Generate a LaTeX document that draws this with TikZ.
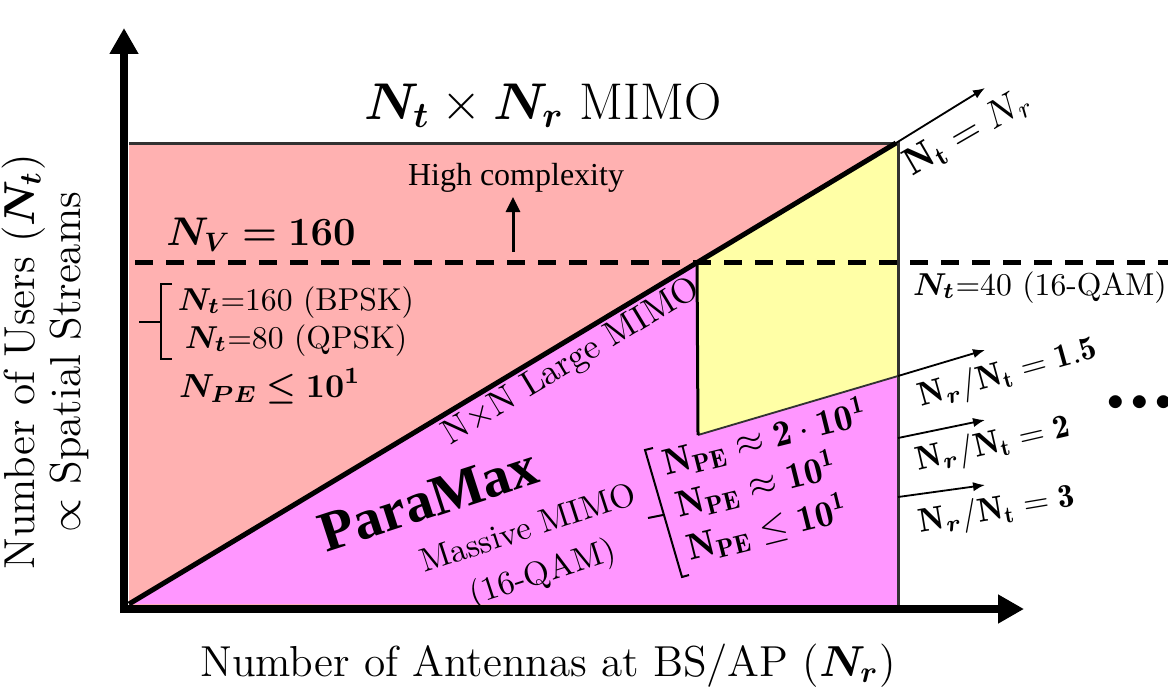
\documentclass[tikz,border=0pt]{standalone}
\usepackage{fix-cm}
\usepackage{amsmath,amssymb,bm}
\usepackage{fontspec}
\newfontfamily\timesf{Liberation Serif}
\usetikzlibrary{arrows.meta,calc}
\definecolor{pinkR}{RGB}{255,177,177}
\definecolor{magR}{RGB}{255,150,255}
\definecolor{yelR}{RGB}{255,255,166}
\definecolor{edgeG}{RGB}{50,50,50}
\newcommand\fsz[2]{\fontsize{#1}{#2}\selectfont}
\begin{document}
\begin{tikzpicture}[x=0.3pt,y=-0.3pt,
  axisarrow/.style={line width=2.6pt,-{Triangle[length=7.8pt,width=8.2pt]}},
  thinarrow/.style={line width=0.55pt,-{Latex[length=3.6pt,width=2.8pt]}},
  uparrow/.style={line width=0.9pt,-{Triangle[length=4.5pt,width=4.2pt]}},
  bracelines/.style={line width=0.6pt},
  lbl/.style={inner sep=0pt,outer sep=0pt}]
\useasboundingbox (0,0) rectangle (1168,688);
% key points
\coordinate (O) at (129,604);
\coordinate (TR) at (896,143);
\coordinate (TRc) at (898,143);
\coordinate (BRc) at (898,605);
\coordinate (TL) at (129,143);
\coordinate (D) at (697,262);
\coordinate (V2) at (698,435);
\coordinate (R15) at (898,376);
\coordinate (R2) at (898,438);
\coordinate (R3) at (898,497);
\coordinate (R15tip) at (985,350);
\coordinate (R2tip) at (985,420);
\coordinate (R3tip) at (985,485);
\coordinate (EQtip) at (985,88);
\coordinate (dashL) at (135,262);
\coordinate (dashR) at (1168,262);
\coordinate (hcfoot) at (513,252);
\coordinate (hctip) at (513,197);
\coordinate (yaxB) at (124,613);
\coordinate (yaxT) at (124,28);
\coordinate (xaxL) at (120,609);
\coordinate (xaxR) at (1024,609);
% regions
\fill[pinkR] (TL) rectangle (BRc);
\fill[magR] (O) -- (D) -- (V2) -- (R15) -- (BRc) -- cycle;
\fill[yelR] (D) -- (TR) -- (TRc) -- (R15) -- (V2) -- cycle;
% edges
\draw[edgeG,line width=0.9pt] (TL) -- (TRc) -- (BRc);
\draw[line width=0.55pt,edgeG] (V2) -- (R15);
\draw[line width=0.9pt] (D) -- (V2);
\draw[line width=1.5pt] (O) -- (TR);
\draw[line width=1.5pt,dash pattern=on 5.4pt off 3.9pt] (dashL) -- (dashR);
% arrows at right
\draw[thinarrow] (TR) -- (EQtip);
\draw[thinarrow] (R15) -- (R15tip);
\draw[thinarrow] (R2) -- (R2tip);
\draw[thinarrow] (R3) -- (R3tip);
\draw[uparrow] (hcfoot) -- (hctip);
% axes
\draw[axisarrow] (yaxB) -- (yaxT);
\draw[axisarrow] (xaxL) -- (xaxR);
% left brace
\draw[bracelines] (172,284) -- (161,284) -- (161,359) -- (172,359);
\draw[bracelines] (161,322) -- (139,322);
% middle bracket
\draw[bracelines] (653,448) -- (645,450) -- (682,577) -- (689,575);
\draw[bracelines] (663,515) -- (648,518);
% texts
\node[lbl,anchor=base] (title) at (543,120) {\fsz{15.5}{18}$\boldsymbol{N_t}\times\boldsymbol{N_r}$ MIMO};
\node[lbl,anchor=base] (hc) at (516,185) {\timesf\fsz{9.6}{11}High complexity};
\node[lbl,anchor=base] (nv) at (261,245) {\fsz{12}{14}$\boldsymbol{N_V = 160}$};
\node[lbl,anchor=base] (bpsk) at (296,310) {\fsz{9.5}{11.4}$\boldsymbol{N_t}$=160 (BPSK)};
\node[lbl,anchor=base] (qpsk) at (296,348) {\fsz{9.5}{11.4}$\boldsymbol{N_t}$=80 (QPSK)};
\node[lbl,anchor=base] (npeL) at (270,397) {\fsz{10}{12}$\boldsymbol{N_{PE}\leq 10^1}$};
\node[lbl,rotate=31] (nxn) at (572,362) {\fsz{10.5}{12}N$\times$N Large MIMO};
\node[lbl,rotate=18,anchor=base] (paramax) at (434,517) {\timesf\fsz{17}{19}\bfseries ParaMax};
\node[lbl,rotate=18,align=center,font=\fsz{10}{14}] (massive) at (536,553) {Massive MIMO\\(16-QAM)};
\node[lbl,rotate=14,anchor=base west] (npe1) at (666,475) {\fsz{11}{13}$\mathbf{N_{PE}}\approx\mathbf{2\cdot 10^1}$};
\node[lbl,rotate=14,anchor=base west] (npe2) at (679,517) {\fsz{11}{13}$\mathbf{N_{PE}}\approx\mathbf{10^1}$};
\node[lbl,rotate=14,anchor=base west] (npe3) at (690,560) {\fsz{11}{13}$\mathbf{N_{PE}}\leq\mathbf{10^1}$};
\node[lbl,rotate=30] (eq) at (968,133) {\fsz{11.5}{13}$\mathbf{N_t} = N_r$};
\node[lbl,anchor=base west] (qam) at (913,295) {\fsz{9.5}{11.4}$\boldsymbol{N_t}$=40 (16-QAM)};
\node[lbl,rotate=15.5] (r15) at (1008,374) {\fsz{10}{12}$\mathbf{N}_{\boldsymbol r}/\mathbf{N_t} = \mathbf{1.5}$};
\node[lbl,rotate=13] (r2) at (993,445) {\fsz{10}{12}$\mathbf{N}_{\boldsymbol r}/\mathbf{N_t} = \mathbf{2}$};
\node[lbl,rotate=9.5] (r3) at (997,511) {\fsz{10}{12}$\mathbf{N}_{\boldsymbol r}/\mathbf{N_t} = \mathbf{3}$};
\node[lbl] (dots) at (1140,403) {\fsz{10}{12}$\bullet\bullet\bullet$};
\node[lbl,anchor=base] (xlab) at (548,676) {\fsz{13}{15}Number of Antennas at BS/AP ($\boldsymbol{N_r}$)};
\node[lbl,rotate=90,align=center,font=\fsz{13}{13.8}] (ylab) at (45,362) {Number of Users ($\boldsymbol{N_t}$)\\$\propto$ Spatial Streams};
\end{tikzpicture}
\end{document}
